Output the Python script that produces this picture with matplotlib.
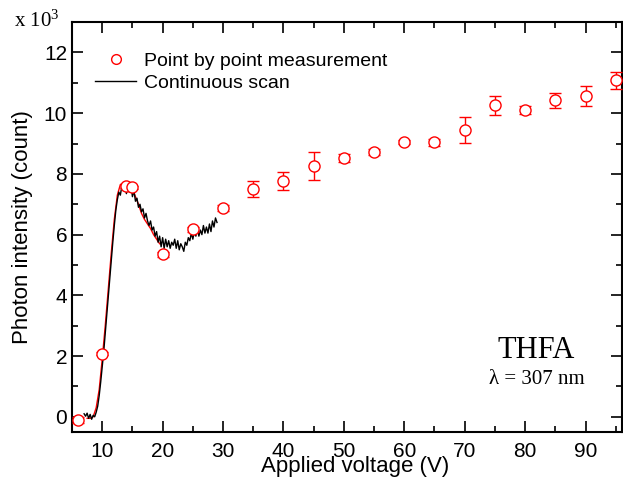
import numpy as np
import matplotlib.pyplot as plt
from matplotlib.lines import Line2D

plt.rcParams['font.family'] = ['Liberation Sans', 'DejaVu Sans']

# Point by point measurement (x10^3 counts)
pt_volt = [6, 10, 14, 15, 20, 25, 30, 35, 40, 45, 50, 55, 60, 65, 70, 75, 80, 85, 90, 95]
pt_int = [-0.12, 2.08, 7.6, 7.56, 5.35, 6.18, 6.88, 7.50, 7.77, 8.26, 8.53, 8.72, 9.06,
          9.04, 9.44, 10.26, 10.10, 10.43, 10.56, 11.08]
pt_err = [0.1, 0.05, 0.05, 0.05, 0.08, 0.08, 0.1, 0.25, 0.29, 0.46, 0.14, 0.1, 0.06,
          0.12, 0.43, 0.32, 0.12, 0.25, 0.33, 0.28]

# smooth red curve under the scan near threshold
fit_volt = [7.5, 8.0, 8.5, 9.0, 9.5, 10.0, 10.5, 11.0, 11.5, 12.0, 12.5, 13.0, 13.5,
            14.0, 14.5, 15.0, 15.5, 16.0, 16.5, 17.0, 17.5, 18.0, 18.5, 19.0, 19.5]
fit_int = [-0.05, -0.05, 0.0, 0.3, 0.9, 1.9, 3.0, 4.2, 5.4, 6.5, 7.3, 7.65, 7.7,
           7.65, 7.6, 7.5, 7.25, 7.0, 6.7, 6.5, 6.35, 6.2, 6.0, 5.85, 5.7]

# Continuous scan, 0.25 V steps from 7 V to 29 V
scan_int = [0.10, 0.02, 0.12, -0.05, 0.08, -0.08, 0.05, 0.00, 0.15, 0.35,
            0.70, 1.15, 1.65, 2.15, 2.75, 3.35, 3.95, 4.55, 5.15, 5.75,
            6.30, 6.80, 7.15, 7.40, 7.30, 7.60, 7.45, 7.65, 7.35, 7.55,
            7.40, 7.62, 7.25, 7.45, 7.10, 7.20, 6.90, 7.00, 6.75, 6.85,
            6.55, 6.70, 6.45, 6.30, 6.45, 6.15, 6.25, 5.95, 6.10, 5.75,
            5.95, 5.60, 5.90, 5.55, 5.85, 5.60, 5.80, 5.55, 5.75, 5.65,
            5.85, 5.55, 5.80, 5.50, 5.70, 5.60, 5.45, 5.75, 5.65, 5.90,
            5.80, 6.05, 5.85, 6.10, 5.95, 6.20, 5.95, 6.15, 6.00, 6.30,
            6.05, 6.25, 6.05, 6.35, 6.10, 6.45, 6.25, 6.55, 6.40]
scan_volt = np.linspace(7.0, 29.0, len(scan_int))

fig = plt.figure(figsize=(6.23, 4.8), dpi=100)
ax = fig.add_axes([0.1156, 0.1, 0.8824, 0.854])

ax.plot(fit_volt, fit_int, color='red', lw=1.0)
ax.plot(scan_volt, scan_int, color='black', lw=1.0)
ax.errorbar(pt_volt, pt_int, yerr=pt_err, fmt='o', mfc='white', mec='red', ecolor='red',
            ms=8, mew=1.0, elinewidth=1.0, capsize=4, capthick=1.0, zorder=3)

ax.set_xlim(5, 96)
ax.set_ylim(-0.5, 13)
ax.set_xticks(np.arange(10, 91, 10))
ax.set_xticks(np.arange(5, 96, 5), minor=True)
ax.set_yticks(np.arange(0, 13, 2))
ax.set_yticks(np.arange(0, 13, 1), minor=True)
ax.tick_params(which='both', direction='in', top=True, right=True, labelsize=15, width=1.2)
ax.tick_params(which='major', length=8)
ax.tick_params(which='minor', length=4)
ax.tick_params(axis='x', pad=7)
for s in ax.spines.values():
    s.set_linewidth(1.5)

ax.set_xlabel('Applied voltage (V)', fontsize=16)
ax.set_ylabel('Photon intensity (count)', fontsize=16)
ax.xaxis.set_label_coords(0.515, -0.058)
ax.yaxis.set_label_coords(-0.071, 0.5)

handles = [Line2D([], [], ls='none', marker='o', ms=7, mfc='white', mec='red', mew=1.0),
           Line2D([], [], color='black', lw=1.0)]
labels = ['Point by point measurement', 'Continuous scan']
ax.legend(handles, labels, loc='upper left', bbox_to_anchor=(0.042, 0.927),
          frameon=False, fontsize=14, handlelength=2.1, handletextpad=0.4,
          labelspacing=0.25, borderpad=0, borderaxespad=0)

ax.text(0.845, 0.2, 'THFA', transform=ax.transAxes, ha='center', va='center',
        fontsize=22, family='Liberation Serif')
ax.text(0.845, 0.127, '\u03bb = 307 nm', transform=ax.transAxes, ha='center', va='center',
        fontsize=15, family='Liberation Serif')
fig.text(0.022, 0.956, 'x 10$\\mathregular{^3}$', ha='left', va='center',
         fontsize=15, family='Liberation Serif')

fig.savefig('out.png', dpi=100)
